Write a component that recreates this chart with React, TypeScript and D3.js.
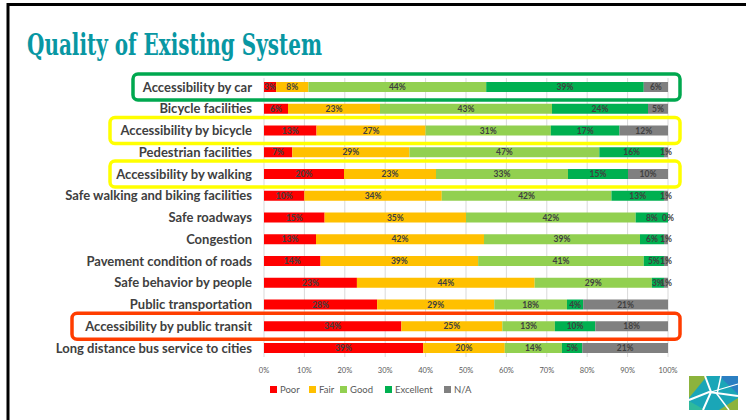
import React from "react";
import * as d3 from "d3";

const categories = [
  "Accessibility by car",
  "Bicycle facilities",
  "Accessibility by bicycle",
  "Pedestrian facilities",
  "Accessibility by walking",
  "Safe walking and biking facilities",
  "Safe roadways",
  "Congestion",
  "Pavement condition of roads",
  "Safe behavior by people",
  "Public transportation",
  "Accessibility by public transit",
  "Long distance bus service to cities",
];
const seriesNames = ["Poor", "Fair", "Good", "Excellent", "N/A"];
const poor = [3, 6, 13, 7, 20, 10, 15, 13, 14, 23, 28, 34, 39];
const fair = [8, 23, 27, 29, 23, 34, 35, 42, 39, 44, 29, 25, 20];
const good = [44, 43, 31, 47, 33, 42, 42, 39, 41, 29, 18, 13, 14];
const excellent = [39, 24, 17, 16, 15, 13, 8, 6, 5, 3, 4, 10, 5];
const na = [6, 5, 12, 1, 10, 1, 0, 1, 1, 1, 21, 18, 21];
const tickValues = [0, 0.1, 0.2, 0.3, 0.4, 0.5, 0.6, 0.7, 0.8, 0.9, 1];
const highlightCats = [
  "Accessibility by car",
  "Accessibility by bicycle",
  "Accessibility by walking",
  "Accessibility by public transit",
];

const colors = ["#FF0000", "#FFC000", "#92D050", "#00B050", "#808080"];
const highlightColors = ["#00A84F", "#FFFF00", "#FFFF00", "#FF3D00"];
const highlightLeft = [133, 110, 110, 72];

const W = 746;
const H = 420;

export default function App() {
  const series = [poor, fair, good, excellent, na];
  const rows = categories.map((c, i) => {
    const r: any = { cat: c };
    seriesNames.forEach((s, j) => (r[s] = series[j][i]));
    return r;
  });
  const stacked = d3
    .stack<any>()
    .keys(seriesNames)
    .offset(d3.stackOffsetExpand)(rows);

  const x = d3.scaleLinear().domain([0, 1]).range([264, 668]);
  const y = d3.scalePoint<string>().domain(categories).range([87, 348]);
  const barH = 10;
  const pct = d3.format(".0%");

  const font = "Lato, 'Open Sans', sans-serif";

  return (
    <svg
      width={W}
      height={H}
      style={{ position: "absolute", left: 0, top: 0, background: "#fff" }}
    >
      {/* slide border */}
      <rect x={0} y={0} width={W} height={H} fill="#fff" />
      <line x1={7} x2={W} y1={4.5} y2={4.5} stroke="#000" strokeWidth={3} />
      <line x1={8} x2={8} y1={3} y2={H} stroke="#000" strokeWidth={3} />

      {/* title */}
      <text
        x={27}
        y={55}
        fontFamily="'DejaVu Serif', serif"
        fontWeight="bold"
        fontSize={30}
        fill="#0897A3"
        textLength={295}
        lengthAdjust="spacingAndGlyphs"
      >
        Quality of Existing System
      </text>

      {/* gridlines */}
      {tickValues.map((t) => (
        <line
          key={t}
          x1={x(t)}
          x2={x(t)}
          y1={78}
          y2={357}
          stroke="#D9D9D9"
          strokeWidth={1}
        />
      ))}

      {/* bars */}
      {stacked.map((s, si) => (
        <g key={s.key} fill={colors[si]}>
          {s.map((d, i) => (
            <rect
              key={i}
              x={x(d[0])}
              y={(y(categories[i]) as number) - barH / 2}
              width={Math.max(0, x(d[1]) - x(d[0]))}
              height={barH}
            />
          ))}
        </g>
      ))}
      {/* bar labels */}
      {stacked.map((s, si) => (
        <g key={"l" + s.key}>
          {s.map((d, i) => (
            <text
              key={i}
              x={(x(d[0]) + x(d[1])) / 2}
              y={(y(categories[i]) as number) + 3.2}
              textAnchor="middle"
              fontFamily={font}
              fontWeight="bold"
              fontSize={8.5}
              fill="#404040"
            >
              {series[si][i] + "%"}
            </text>
          ))}
        </g>
      ))}

      {/* category labels */}
      {categories.map((c) => (
        <text
          key={c}
          x={252}
          y={(y(c) as number) + 4.5}
          textAnchor="end"
          fontFamily={font}
          fontWeight="bold"
          fontSize={13}
          fill="#404040"
        >
          {c}
        </text>
      ))}

      {/* highlight boxes */}
      {highlightCats.map((c, i) => (
        <rect
          key={c}
          x={highlightLeft[i]}
          y={(y(c) as number) - 13}
          width={680 - highlightLeft[i]}
          height={26}
          rx={5}
          fill="none"
          stroke={highlightColors[i]}
          strokeWidth={3.5}
        />
      ))}

      {/* x axis tick labels */}
      {tickValues.map((t) => (
        <text
          key={"t" + t}
          x={x(t)}
          y={373}
          textAnchor="middle"
          fontFamily={font}
          fontSize={7.5}
          fill="#595959"
        >
          {pct(t)}
        </text>
      ))}

      {/* legend */}
      {(() => {
        const lx = [270, 309, 340, 385, 444];
        return seriesNames.map((s, i) => (
          <g key={"lg" + s}>
            <rect x={lx[i]} y={386} width={7} height={7} fill={colors[i]} />
            <text
              x={lx[i] + 10}
              y={393}
              fontFamily={font}
              fontSize={9.5}
              fill="#595959"
            >
              {s}
            </text>
          </g>
        ));
      })()}

      {/* logo */}
      <g transform="translate(689,376)">
        <rect x={0} y={0} width={49} height={34} fill="#1AA6B7" />
        <polygon points="0,0 18,0 0,22" fill="#8CB33C" />
        <polygon points="49,0 49,18 30,0" fill="#2B7FC2" />
        <polygon points="30,34 49,34 49,22" fill="#8CB33C" />
        <polygon points="0,25 0,34 16,34" fill="#2FB99C" />
        <polyline points="0,24 20,16 49,20" fill="none" stroke="#fff" strokeWidth={2} />
        <polyline points="16,0 22,16 14,34" fill="none" stroke="#fff" strokeWidth={2} />
        <polyline points="32,0 28,18 40,34" fill="none" stroke="#fff" strokeWidth={1.5} />
        <polyline points="22,16 49,8" fill="none" stroke="#fff" strokeWidth={1.2} />
      </g>
    </svg>
  );
}
